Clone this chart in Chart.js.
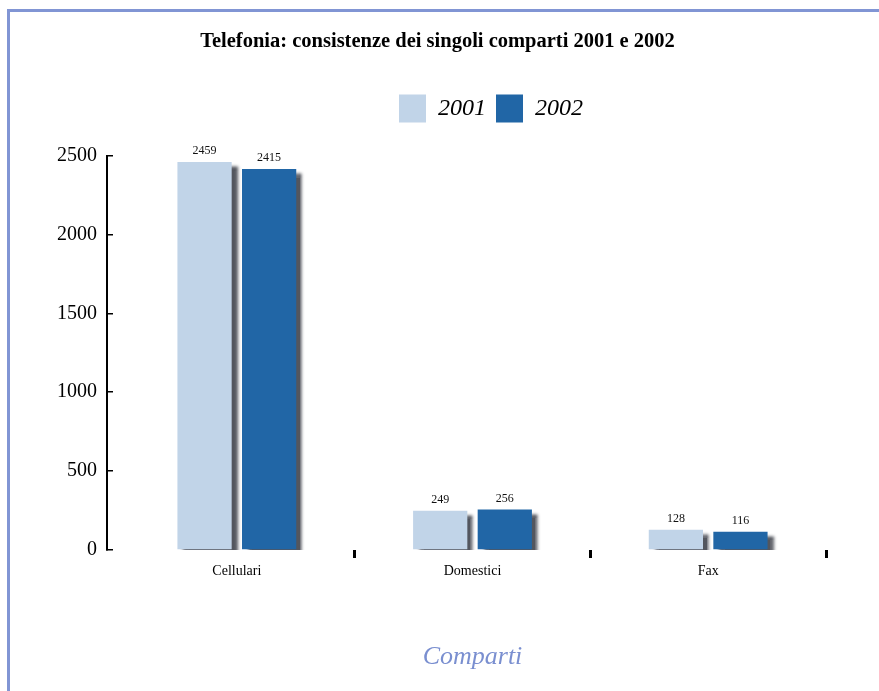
<!DOCTYPE html>
<html>
<head>
<meta charset="utf-8">
<title>Telefonia</title>
<script src="https://cdn.jsdelivr.net/npm/chart.js@4/dist/chart.umd.min.js"></script>
<style>
    html, body { margin: 0; padding: 0; background: #fff; }
    #wrap { position: relative; width: 879px; height: 691px; overflow: hidden; }
    #frame {
        position: absolute; left: 7px; top: 9px; width: 900px; height: 700px;
        border-top: 3px solid #8195d4; border-left: 3px solid #8195d4;
    }
    #chart { position: absolute; left: 0; top: 0; }
</style>
</head>
<body>
<div id="wrap">
    <div id="frame"></div>
    <canvas id="chart" width="879" height="691"></canvas>
</div>
<script>
(function () {
    "use strict";

    const categories = ["Cellulari", "Domestici", "Fax"];
    const years = ["2001", "2002"];
    const values2001 = [2459, 249, 128];
    const values2002 = [2415, 256, 116];
    const yTicks = [0, 500, 1000, 1500, 2000, 2500];

    const serif = "'Liberation Serif', 'Times New Roman', serif";

    // bars get a dark drop shadow on the right / bottom
    const barShadow = {
        id: "barShadow",
        beforeDatasetDraw(chart) {
            const ctx = chart.ctx;
            ctx.save();
            ctx.shadowColor = "rgba(25, 30, 40, 0.75)";
            ctx.shadowOffsetX = 6;
            ctx.shadowOffsetY = 4;
            ctx.shadowBlur = 3;
        },
        afterDatasetDraw(chart) {
            chart.ctx.restore();
        },
    };

    // value over each bar
    const valueLabels = {
        id: "valueLabels",
        afterDatasetsDraw(chart) {
            const ctx = chart.ctx;
            ctx.save();
            ctx.font = "12px " + serif;
            ctx.fillStyle = "#111";
            ctx.textAlign = "center";
            ctx.textBaseline = "bottom";
            chart.data.datasets.forEach((ds, i) => {
                chart.getDatasetMeta(i).data.forEach((bar, j) => {
                    ctx.fillText(String(ds.data[j]), bar.x, bar.y - 5);
                });
            });
            ctx.restore();
        },
    };

    // the category axis starts a bit right of the value axis
    const xInset = {
        id: "xInset",
        afterLayout(chart) {
            const x = chart.scales.x;
            x.left = chart.chartArea.left + 12;
            x.right = chart.chartArea.right - 49;
            x.width = x.right - x.left;
            x.configure();
        },
    };

    // extra room under the legend
    const legendGap = {
        id: "legendGap",
        beforeInit(chart) {
            const fit = chart.legend.fit;
            chart.legend.fit = function () {
                fit.call(this);
                this.height += 23;
            };
        },
    };

    const ctx = document.getElementById("chart").getContext("2d");
    new Chart(ctx, {
        type: "bar",
        data: {
            labels: categories,
            datasets: [
                {
                    label: years[0],
                    data: values2001,
                    backgroundColor: "#c1d4e8",
                    borderWidth: 0,
                },
                {
                    label: years[1],
                    data: values2002,
                    backgroundColor: "#2166a6",
                    borderWidth: 0,
                },
            ],
        },
        options: {
            responsive: false,
            animation: false,
            categoryPercentage: 0.548,
            barPercentage: 0.84,
            layout: {
                padding: { left: 0, right: 4, top: 0, bottom: 18 },
            },
            plugins: {
                title: {
                    display: true,
                    text: "Telefonia: consistenze dei singoli comparti 2001 e 2002",
                    color: "#000",
                    font: { family: serif, size: 20.5, weight: "bold" },
                    padding: { top: 29, bottom: 31 },
                },
                legend: {
                    display: true,
                    fullSize: false,
                    labels: {
                        color: "#000",
                        boxWidth: 27,
                        boxHeight: 28,
                        padding: 10,
                        font: { family: serif, size: 24, style: "italic" },
                    },
                },
                tooltip: { enabled: false },
            },
            scales: {
                x: {
                    offset: true,
                    border: { display: false },
                    grid: {
                        offset: true,
                        drawOnChartArea: false,
                        tickLength: 8,
                        lineWidth: 3,
                        color: (c) => (c.index === 0 ? "rgba(0,0,0,0)" : "#000"),
                    },
                    ticks: {
                        color: "#000",
                        padding: 5,
                        font: { family: serif, size: 14 },
                    },
                    title: {
                        display: true,
                        text: "Comparti",
                        color: "#7a8fd0",
                        font: { family: serif, size: 26, style: "italic" },
                        padding: { top: 57, bottom: 0 },
                    },
                },
                y: {
                    min: yTicks[0],
                    max: yTicks[yTicks.length - 1],
                    border: { display: true, color: "#000", width: 2 },
                    grid: {
                        drawOnChartArea: false,
                        tickLength: -6,
                        lineWidth: 1.5,
                        color: "#000",
                    },
                    afterBuildTicks(axis) {
                        axis.ticks = yTicks.map((v) => ({ value: v }));
                    },
                    afterFit(axis) {
                        axis.width += 41;
                    },
                    ticks: {
                        color: "#000",
                        padding: 16,
                        font: { family: serif, size: 20 },
                        callback: (v) => String(v),
                    },
                },
            },
        },
        plugins: [legendGap, xInset, barShadow, valueLabels],
    });
})();
</script>
</body>
</html>
